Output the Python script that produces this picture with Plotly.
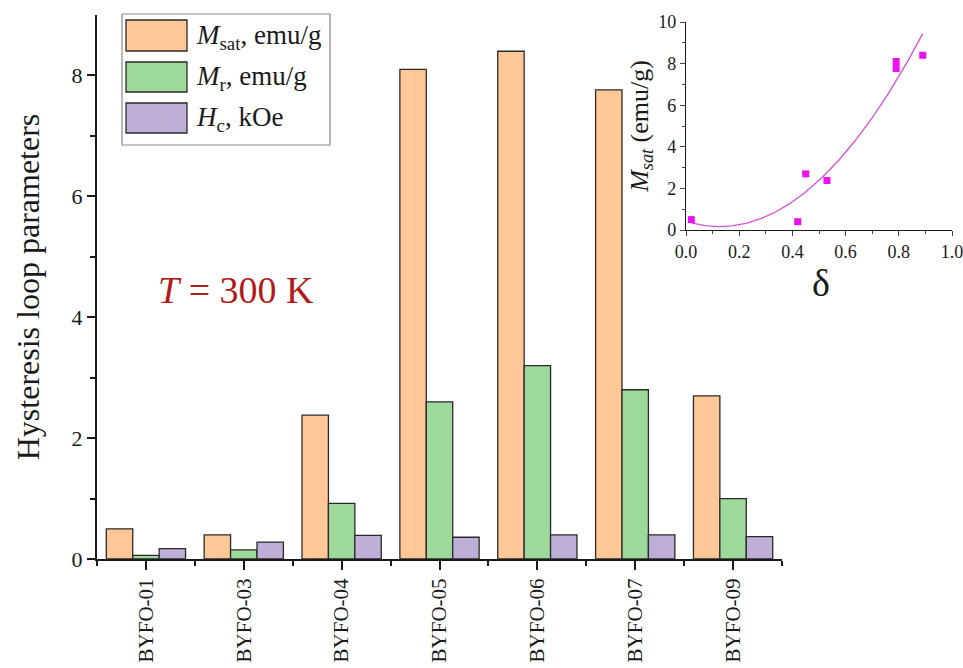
import numpy as np
import plotly.graph_objects as go

# Samples and hysteresis-loop parameters at T = 300 K
samples = ["BYFO-01", "BYFO-03", "BYFO-04", "BYFO-05", "BYFO-06", "BYFO-07", "BYFO-09"]
m_sat = [0.50, 0.40, 2.38, 8.10, 8.40, 7.76, 2.70]   # emu/g
m_r = [0.06, 0.15, 0.92, 2.60, 3.20, 2.80, 1.00]     # emu/g
h_c = [0.17, 0.28, 0.39, 0.36, 0.40, 0.40, 0.37]     # kOe

# Composition parameter delta for each sample (inset)
delta = [0.02, 0.42, 0.53, 0.79, 0.89, 0.79, 0.45]

series_names = ["<i>M</i><sub>sat</sub>, emu/g", "<i>M</i><sub>r</sub>, emu/g", "<i>H</i><sub>c</sub>, kOe"]
series_colors = ["#FFC896", "#9ED99C", "#BFAFD6"]

FONT = "Liberation Serif"
W, H = 963, 668
ML, MR, MT, MB = 97, 6, 15, 109
PW, PH = W - ML - MR, H - MT - MB


def px_x(x):
    return (x - ML) / PW


def px_y(y):
    return (H - MB - y) / PH


xpos = list(range(len(samples)))
fig = go.Figure()
for vals, name, col in zip([m_sat, m_r, h_c], series_names, series_colors):
    fig.add_trace(go.Bar(
        x=xpos, y=vals, name=name, marker=dict(color=col, line=dict(color="#2a2a2a", width=1.3)),
        xaxis="x", yaxis="y", showlegend=False,
    ))

# Inset: Msat vs delta with a quadratic fit
coef = np.polyfit(delta, m_sat, 2)
xf = np.linspace(min(delta), max(delta), 200)
fig.add_trace(go.Scatter(x=xf, y=np.polyval(coef, xf), mode="lines",
                         line=dict(color="#d94fd9", width=1.3), xaxis="x2", yaxis="y2", showlegend=False))
fig.add_trace(go.Scatter(x=delta, y=m_sat, mode="markers",
                         marker=dict(symbol="square", size=7, color="#ee10ee"),
                         xaxis="x2", yaxis="y2", showlegend=False))

main_right = (782 - ML) / PW
fig.update_layout(
    width=W, height=H, margin=dict(l=ML, r=MR, t=MT, b=MB),
    paper_bgcolor="white", plot_bgcolor="white",
    font=dict(family=FONT, color="#1a1a1a"),
    barmode="group", bargap=0.19, bargroupgap=0,
    xaxis=dict(domain=[0, main_right], range=[-0.5, len(samples) - 0.5], automargin=False,
               tickvals=xpos, ticktext=samples, tickangle=-90, tickfont=dict(size=21),
               showline=True, linecolor="#1a1a1a", linewidth=2, ticks="outside", ticklen=9,
               tickwidth=2, tickcolor="#1a1a1a", showgrid=False, zeroline=False,
               minor=dict(tickvals=[i - 0.5 for i in range(len(samples) + 1)], ticks="outside",
                          ticklen=5, tickwidth=2, tickcolor="#1a1a1a", showgrid=False)),
    yaxis=dict(domain=[0, 1], range=[0, 9], tickvals=[0, 2, 4, 6, 8], tickfont=dict(size=22),
               automargin=False,
               showline=True, linecolor="#1a1a1a", linewidth=2, ticks="outside", ticklen=8,
               tickwidth=2, tickcolor="#1a1a1a", showgrid=False, zeroline=False,
               title=dict(text="Hysteresis loop parameters", font=dict(size=32), standoff=22),
               minor=dict(tickvals=[1, 3, 5, 7], ticks="outside", ticklen=5, tickwidth=2,
                          tickcolor="#1a1a1a", showgrid=False)),
    xaxis2=dict(domain=[px_x(686), px_x(952)], range=[0, 1.0], anchor="y2", automargin=False,
                tickvals=[0, 0.2, 0.4, 0.6, 0.8, 1.0], ticktext=["0.0", "0.2", "0.4", "0.6", "0.8", "1.0"],
                tickfont=dict(size=18), ticklabeloverflow="allow", showline=True,
                linecolor="#1a1a1a", linewidth=1.2,
                ticks="outside", ticklen=5, tickwidth=1.2, showgrid=False, zeroline=False,
                minor=dict(tickvals=[0.1, 0.3, 0.5, 0.7, 0.9], ticks="outside", ticklen=3,
                           tickwidth=1, showgrid=False)),
    yaxis2=dict(domain=[px_y(230), px_y(22)], range=[0, 10], anchor="x2", automargin=False,
                tickvals=[0, 2, 4, 6, 8, 10], tickfont=dict(size=18), showline=True,
                linecolor="#1a1a1a", linewidth=1.2, ticks="outside", ticklen=5, tickwidth=1.2,
                showgrid=False, zeroline=False,
                title=dict(text="<i>M<sub>sat</sub></i> (emu/g)", font=dict(size=26), standoff=2),
                minor=dict(tickvals=[1, 3, 5, 7, 9], ticks="outside", ticklen=3, tickwidth=1,
                           showgrid=False)),
)

shapes = []
annotations = []

# Legend box drawn in paper coordinates
shapes.append(dict(type="rect", xref="paper", yref="paper", x0=px_x(122), x1=px_x(330),
                   y0=px_y(145), y1=px_y(14), line=dict(color="#888888", width=1.2), fillcolor="white"))
rows = [(20, 51), (62, 92), (103, 133)]
for (y0, y1), name, col in zip(rows, series_names, series_colors):
    shapes.append(dict(type="rect", xref="paper", yref="paper", x0=px_x(126), x1=px_x(187),
                       y0=px_y(y1), y1=px_y(y0), line=dict(color="#2a2a2a", width=1.3), fillcolor=col))
    annotations.append(dict(xref="paper", yref="paper", x=px_x(194), y=px_y((y0 + y1) / 2 + 1),
                            text=name, showarrow=False, xanchor="left", yanchor="middle",
                            font=dict(size=27, family=FONT, color="#1a1a1a")))

annotations.append(dict(xref="paper", yref="paper", x=px_x(236), y=px_y(290),
                        text="<i>T</i> = 300 K", showarrow=False, xanchor="center", yanchor="middle",
                        font=dict(size=38, family=FONT, color="#b01c1c")))
annotations.append(dict(xref="paper", yref="paper", x=px_x(821), y=px_y(283),
                        text="δ", showarrow=False, xanchor="center", yanchor="middle",
                        font=dict(size=38, family=FONT, color="#1a1a1a")))

fig.update_layout(shapes=shapes, annotations=annotations)
fig.write_html("out.html")
